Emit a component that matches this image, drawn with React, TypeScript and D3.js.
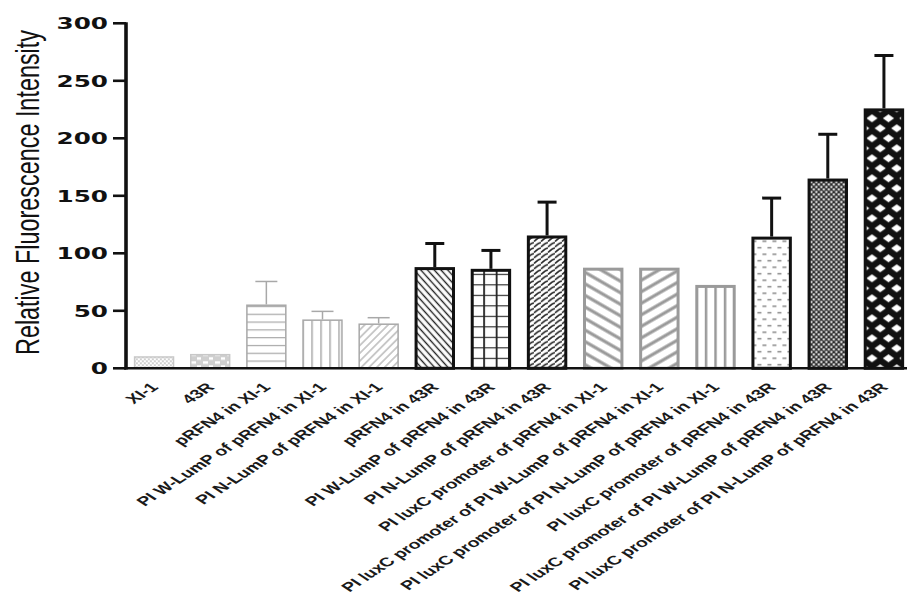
import React from "react";
import * as d3 from "d3";

const categories = [
  "XI-1",
  "43R",
  "pRFN4 in XI-1",
  "PI W-LumP of pRFN4 in XI-1",
  "PI N-LumP of pRFN4 in XI-1",
  "pRFN4 in 43R",
  "PI W-LumP of pRFN4 in 43R",
  "PI N-LumP of pRFN4 in 43R",
  "PI luxC promoter of pRFN4 in XI-1",
  "PI luxC promoter of PI W-LumP of pRFN4 in XI-1",
  "PI luxC promoter of PI N-LumP of pRFN4 in XI-1",
  "PI luxC promoter of pRFN4 in 43R",
  "PI luxC promoter of PI W-LumP of pRFN4 in 43R",
  "PI luxC promoter of PI N-LumP of pRFN4 in 43R",
];
const values = [10.5, 12.5, 55.5, 42.5, 39, 88, 86.5, 115.5, 87.5, 87.5, 72.5, 114.5, 165, 226];
const errors = [0, 0, 20, 7, 5, 20.5, 16, 29, 0, 0, 0, 33.5, 38.5, 46];
const yTicks = [0, 50, 100, 150, 200, 250, 300];
const yLabel = "Relative Fluorescence Intensity";

const W = 910;
const H = 600;
const SX = 1.54; // horizontal stretch of text

type Style = { stroke: string; sw: number; ec: string; ew: number; cap: number };
const styles: Style[] = [
  { stroke: "#c8c8c8", sw: 1.5, ec: "#aaa", ew: 1.5, cap: 22 },
  { stroke: "#c8c8c8", sw: 1.5, ec: "#aaa", ew: 1.5, cap: 22 },
  { stroke: "#a8a8a8", sw: 1.5, ec: "#a8a8a8", ew: 1.5, cap: 22 },
  { stroke: "#a8a8a8", sw: 1.5, ec: "#a8a8a8", ew: 1.5, cap: 22 },
  { stroke: "#a8a8a8", sw: 1.5, ec: "#a8a8a8", ew: 1.5, cap: 22 },
  { stroke: "#111", sw: 3, ec: "#111", ew: 3, cap: 19 },
  { stroke: "#111", sw: 3, ec: "#111", ew: 3, cap: 19 },
  { stroke: "#111", sw: 3, ec: "#111", ew: 3, cap: 19 },
  { stroke: "#9a9a9a", sw: 3, ec: "#9a9a9a", ew: 3, cap: 19 },
  { stroke: "#9a9a9a", sw: 3, ec: "#9a9a9a", ew: 3, cap: 19 },
  { stroke: "#9a9a9a", sw: 3, ec: "#9a9a9a", ew: 3, cap: 19 },
  { stroke: "#111", sw: 3, ec: "#111", ew: 3, cap: 19 },
  { stroke: "#111", sw: 3, ec: "#111", ew: 3, cap: 19 },
  { stroke: "#111", sw: 3, ec: "#111", ew: 3, cap: 19 },
];

function Pattern({ i, x, y0 }: { i: number; x: number; y0: number }) {
  const id = `p${i}`;
  const common = { id, patternUnits: "userSpaceOnUse" as const, x, y: y0 };
  switch (i) {
    case 0:
      return (
        <pattern {...common} width={4} height={4}>
          <rect width={4} height={4} fill="#fff" />
          <rect width={2} height={2} fill="#cfcfcf" />
          <rect x={2} y={2} width={2} height={2} fill="#cfcfcf" />
        </pattern>
      );
    case 1:
      return (
        <pattern {...common} width={12} height={8}>
          <rect width={12} height={8} fill="#cfcfcf" />
          <rect x={1} y={1} width={5} height={2.5} fill="#fff" />
          <rect x={7} y={5} width={4} height={2.5} fill="#fff" />
        </pattern>
      );
    case 2:
      return (
        <pattern {...common} width={10} height={7.8}>
          <rect width={10} height={7.8} fill="#fff" />
          <line x1={0} x2={10} y1={0} y2={0} stroke="#a8a8a8" strokeWidth={2.4} />
        </pattern>
      );
    case 3:
      return (
        <pattern {...common} width={9} height={10}>
          <rect width={9} height={10} fill="#fff" />
          <line x1={0} x2={0} y1={0} y2={10} stroke="#a8a8a8" strokeWidth={3} />
        </pattern>
      );
    case 4:
      return (
        <pattern {...common} width={5.5} height={10} patternTransform="rotate(45)">
          <rect width={5.5} height={10} fill="#fff" />
          <line x1={2.75} x2={2.75} y1={0} y2={10} stroke="#b0b0b0" strokeWidth={1.3} />
        </pattern>
      );
    case 5:
      return (
        <pattern {...common} width={5} height={10} patternTransform="rotate(-42)">
          <rect width={5} height={10} fill="#fff" />
          <line x1={2.5} x2={2.5} y1={0} y2={10} stroke="#222" strokeWidth={1.4} />
        </pattern>
      );
    case 6:
      return (
        <pattern {...common} width={12.5} height={10.5}>
          <rect width={12.5} height={10.5} fill="#fff" />
          <line x1={0} x2={12.5} y1={0} y2={0} stroke="#222" strokeWidth={2.2} />
          <line x1={0} x2={0} y1={0} y2={10.5} stroke="#222" strokeWidth={3.6} />
        </pattern>
      );
    case 7:
      return (
        <pattern {...common} width={7} height={5.5}>
          <rect width={7} height={5.5} fill="#fff" />
          <path d="M-0.5,5 C2,5 3,0.8 7.5,0.8" fill="none" stroke="#222" strokeWidth={1.7} />
        </pattern>
      );
    case 8:
      return (
        <pattern {...common} width={20} height={10} patternTransform="rotate(30)">
          <rect width={20} height={10} fill="#fff" />
          <line x1={0} x2={20} y1={5} y2={5} stroke="#9a9a9a" strokeWidth={3.2} />
        </pattern>
      );
    case 9:
      return (
        <pattern {...common} width={20} height={10} patternTransform="rotate(-30)">
          <rect width={20} height={10} fill="#fff" />
          <line x1={0} x2={20} y1={5} y2={5} stroke="#9a9a9a" strokeWidth={3.2} />
        </pattern>
      );
    case 10:
      return (
        <pattern {...common} width={9.5} height={10}>
          <rect width={9.5} height={10} fill="#fff" />
          <line x1={0} x2={0} y1={0} y2={10} stroke="#9a9a9a" strokeWidth={5} />
        </pattern>
      );
    case 11:
      return (
        <pattern {...common} width={10} height={13}>
          <rect width={10} height={13} fill="#fff" />
          <line x1={1} x2={5} y1={3} y2={3} stroke="#777" strokeWidth={1.3} />
          <line x1={6} x2={10} y1={9.5} y2={9.5} stroke="#777" strokeWidth={1.3} />
        </pattern>
      );
    case 12:
      return (
        <pattern {...common} width={5} height={5}>
          <rect width={5} height={5} fill="#2a2a2a" />
          <circle cx={1.25} cy={1.25} r={1.15} fill="#fff" />
          <circle cx={3.75} cy={3.75} r={1.15} fill="#fff" />
        </pattern>
      );
    default:
      return (
        <pattern {...common} width={16.5} height={20}>
          <rect width={16.5} height={20} fill="#111" />
          {[
            [0, 0],
            [16.5, 0],
            [0, 20],
            [16.5, 20],
            [8.25, 10],
          ].map(([cx, cy], k) => (
            <path
              key={k}
              d={`M${cx - 5.6},${cy} L${cx},${cy - 4} L${cx + 5.6},${cy} L${cx},${cy + 4} Z`}
              fill="#fff"
            />
          ))}
        </pattern>
      );
  }
}

export default function App() {
  const x = d3
    .scaleBand<string>()
    .domain(categories)
    .range([126, 912])
    .paddingInner(0.28)
    .paddingOuter(0.14);
  const y = d3.scaleLinear().domain([0, 300]).range([368.3, 23.3]);
  const bw = x.bandwidth();
  const y0 = y(0);

  return (
    <svg width={W} height={H} style={{ display: "block", position: "absolute", left: 0, top: 0 }}>
      <rect width={W} height={H} fill="#fff" />
      <defs>
        {categories.map((c, i) => (
          <Pattern key={c} i={i} x={x(c)!} y0={y0} />
        ))}
      </defs>

      {/* bars */}
      {categories.map((c, i) => {
        const s = styles[i];
        const bx = x(c)!;
        const top = y(values[i]);
        return (
          <g key={c}>
            {errors[i] > 0 && (
              <g stroke={s.ec} strokeWidth={s.ew}>
                <line x1={bx + bw / 2} x2={bx + bw / 2} y1={top} y2={y(values[i] + errors[i])} />
                <line
                  x1={bx + bw / 2 - s.cap / 2}
                  x2={bx + bw / 2 + s.cap / 2}
                  y1={y(values[i] + errors[i])}
                  y2={y(values[i] + errors[i])}
                />
              </g>
            )}
            <rect
              x={bx + s.sw / 2}
              y={top + s.sw / 2}
              width={bw - s.sw}
              height={y0 - top - s.sw / 2}
              fill={`url(#p${i})`}
              stroke={s.stroke}
              strokeWidth={s.sw}
            />
          </g>
        );
      })}

      {/* axes */}
      <line x1={124} x2={907} y1={y0} y2={y0} stroke="#111" strokeWidth={2.6} />
      <line x1={126} x2={126} y1={y(300) - 1} y2={y0 + 1.3} stroke="#111" strokeWidth={3.6} />
      {yTicks.map((t) => (
        <g key={t}>
          <line x1={113} x2={126} y1={y(t)} y2={y(t)} stroke="#111" strokeWidth={2.6} />
          <text
            transform={`translate(108,${y(t)}) scale(${SX},1)`}
            textAnchor="end"
            dy="0.36em"
            fontFamily="DejaVu Sans"
            fontWeight="bold"
            fontSize={16}
            fill="#111"
          >
            {t}
          </text>
        </g>
      ))}

      {/* y label */}
      <text
        transform={`translate(27,192.5) scale(1.45,1) rotate(-90)`}
        textAnchor="middle"
        dy="0.35em"
        fontFamily="Liberation Sans, Arial, sans-serif"
        fontSize={23.4}
        fill="#111"
      >
        {yLabel}
      </text>

      {/* x labels */}
      {categories.map((c) => (
        <text
          key={c}
          transform={`translate(${x(c)! + bw / 2 + 5},388) scale(${SX},1) rotate(-45)`}
          textAnchor="end"
          fontFamily="Liberation Sans, Arial, sans-serif"
          fontSize={12.7}
          fontWeight="bold"
          fill="#1a1a1a"
        >
          {c}
        </text>
      ))}
    </svg>
  );
}
